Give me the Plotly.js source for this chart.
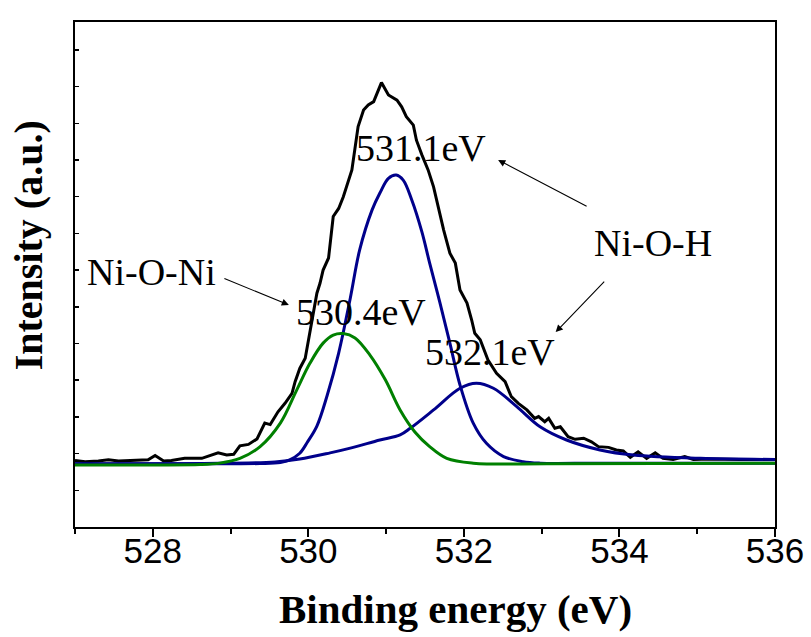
<!DOCTYPE html>
<html>
<head>
<meta charset="utf-8">
<script src="https://cdn.plot.ly/plotly-3.0.1.min.js"></script>
<style>html,body{margin:0;padding:0;background:#fff;}#chart{width:811px;height:637px;}</style>
</head>
<body>
<div id="chart"></div>
<script>
// Measured spectrum (black)
const rawX = [527.00,527.13,527.30,527.43,527.56,527.77,527.94,528.03,528.14,528.24,528.41,528.63,528.74,528.84,528.95,529.04,529.12,529.23,529.34,529.44,529.51,529.61,529.70,529.79,529.83,529.89,529.96,530.00,530.06,530.11,530.15,530.19,530.26,530.32,530.39,530.45,530.56,530.60,530.64,530.71,530.77,530.84,530.94,531.03,531.14,531.20,531.26,531.35,531.39,531.46,531.54,531.61,531.67,531.74,531.82,531.89,531.95,532.04,532.10,532.14,532.21,532.31,532.42,532.53,532.61,532.70,532.81,532.91,532.96,533.04,533.09,533.17,533.24,533.34,533.43,533.54,533.64,533.73,533.86,533.96,534.05,534.14,534.24,534.35,534.46,534.56,534.69,534.84,534.95,535.16,535.55,536.00];
const rawY = [1.81,1.78,1.80,1.83,1.80,1.82,1.83,1.95,1.80,1.81,1.87,1.87,1.96,2.02,1.96,1.98,2.21,2.25,2.40,2.83,2.79,3.14,3.37,3.64,3.96,4.32,4.60,5.10,5.82,6.37,6.64,7.00,7.33,8.46,8.68,9.00,9.73,10.27,10.91,11.36,11.50,11.59,12.11,11.77,11.63,11.45,11.18,10.95,10.54,10.14,9.73,9.27,8.73,8.09,7.46,7.19,6.46,6.10,5.64,5.28,5.10,4.55,4.19,3.96,3.55,3.37,3.19,2.96,3.01,2.87,2.96,2.69,2.73,2.46,2.39,2.42,2.32,2.19,2.17,2.10,2.07,1.90,2.05,1.87,2.02,1.87,1.84,1.92,1.84,1.85,1.84,1.84];

// Fitted component 531.1 eV (Ni-O-H, blue)
const fit1X = [527.00,528.61,529.38,529.64,529.76,529.89,529.99,530.11,530.24,530.39,530.54,530.66,530.82,530.92,531.03,531.13,531.22,531.33,531.46,531.56,531.69,531.82,531.95,532.12,532.29,532.51,532.76,532.98,533.75,536.00];
const fit1Y = [1.72,1.72,1.73,1.76,1.83,2.01,2.32,2.75,3.57,4.74,6.24,7.55,8.64,9.10,9.50,9.59,9.45,8.91,8.04,7.19,6.13,5.01,3.87,2.83,2.28,1.92,1.78,1.74,1.74,1.74];

// Fitted component 532.1 eV (Ni-O-H, blue)
const fit2X = [527.00,528.61,529.57,529.89,530.28,530.54,530.92,531.18,531.31,531.61,531.95,532.16,532.38,532.68,532.98,533.32,533.75,534.18,535.04,536.00];
const fit2Y = [1.72,1.73,1.77,1.85,2.02,2.15,2.37,2.51,2.69,3.19,3.78,3.92,3.78,3.28,2.73,2.37,2.10,1.96,1.87,1.84];

// Fitted component 530.4 eV (Ni-O-Ni, green)
const fit3X = [527.00,527.96,528.61,528.86,529.12,529.38,529.64,529.85,530.02,530.19,530.32,530.45,530.60,530.79,530.99,531.18,531.37,531.56,531.78,532.12,533.11,536.00];
const fit3Y = [1.69,1.69,1.70,1.74,1.87,2.19,2.83,3.73,4.46,5.01,5.23,5.27,5.15,4.69,4.01,3.19,2.59,2.19,1.87,1.74,1.72,1.74];

const xRange = [527, 536];

const serif = 'Liberation Serif, Times New Roman, serif';
const sans = 'Liberation Sans, Arial, sans-serif';

const traces = [
  {x: rawX, y: rawY, mode: 'lines', line: {color: '#000000', width: 3}, hoverinfo: 'skip'},
  {x: fit1X, y: fit1Y, mode: 'lines', line: {color: '#00008B', width: 3, shape: 'spline', smoothing: 1}, hoverinfo: 'skip'},
  {x: fit2X, y: fit2Y, mode: 'lines', line: {color: '#00008B', width: 3, shape: 'spline', smoothing: 1}, hoverinfo: 'skip'},
  {x: fit3X, y: fit3Y, mode: 'lines', line: {color: '#008000', width: 3, shape: 'spline', smoothing: 1}, hoverinfo: 'skip'},
  // empty trace so that the label-only axis is drawn
  {x: [], y: [], xaxis: 'x2', yaxis: 'y', mode: 'lines', hoverinfo: 'skip'}
];

const txt = (t, x, y) => ({text: t, x: x, y: y, xref: 'x', yref: 'y', showarrow: false,
  font: {family: serif, size: 38, color: '#000'}, xanchor: 'center', yanchor: 'middle'});
const arr = (x, y, ax, ay) => ({text: '', x: x, y: y, xref: 'x', yref: 'y', showarrow: true,
  ax: ax, ay: ay, arrowhead: 2, arrowsize: 1.3, arrowwidth: 1.1, arrowcolor: '#000', standoff: 0});

const layout = {
  width: 811, height: 637,
  margin: {l: 75, r: 36, t: 22, b: 110},
  paper_bgcolor: '#fff', plot_bgcolor: '#fff',
  showlegend: false,
  xaxis: {
    range: xRange, tickmode: 'linear', tick0: 528, dtick: 2,
    ticks: 'outside', ticklen: 8, tickwidth: 2, tickcolor: '#000',
    minor: {tickmode: 'linear', tick0: 527, dtick: 1, ticks: 'outside', ticklen: 5, tickwidth: 2, tickcolor: '#000', showgrid: false},
    showline: true, linecolor: '#000', linewidth: 2, mirror: true,
    showgrid: false, zeroline: false, showticklabels: false
  },
  xaxis2: {
    range: xRange, overlaying: 'x', anchor: 'y', side: 'bottom',
    tickmode: 'linear', tick0: 528, dtick: 2, ticks: '',
    showline: false, showgrid: false, zeroline: false, showticklabels: true,
    tickfont: {family: sans, size: 35, color: '#000'}
  },
  yaxis: {
    range: [0, 13.76], tickmode: 'linear', dtick: 1, tick0: 0,
    ticks: 'inside', ticklen: 4, tickwidth: 1.5, tickcolor: '#000',
    showticklabels: false,
    showline: true, linecolor: '#000', linewidth: 2, mirror: true,
    showgrid: false, zeroline: false
  },
  annotations: [
    {text: '<b>Binding energy (eV)</b>', xref: 'paper', yref: 'paper', x: 0.543, y: -0.162,
     xanchor: 'center', yanchor: 'middle', showarrow: false, font: {family: serif, size: 41, color: '#000'}},
    {text: '<b>Intensity (a.u.)</b>', xref: 'paper', yref: 'paper', x: -0.067, y: 0.558, textangle: -90,
     xanchor: 'center', yanchor: 'middle', showarrow: false, font: {family: serif, size: 40, color: '#000'}},
    txt('Ni-O-Ni', 527.98, 6.95),
    txt('530.4eV', 530.68, 5.86),
    txt('531.1eV', 531.45, 10.33),
    txt('532.1eV', 532.34, 4.77),
    txt('Ni-O-H', 534.43, 7.74),
    arr(529.75, 6.05, -66, -27),
    arr(532.44, 10.0, 90, 47),
    arr(533.18, 5.31, 50, -52)
  ]
};

Plotly.newPlot('chart', traces, layout, {displayModeBar: false, staticPlot: true});
</script>
</body>
</html>
